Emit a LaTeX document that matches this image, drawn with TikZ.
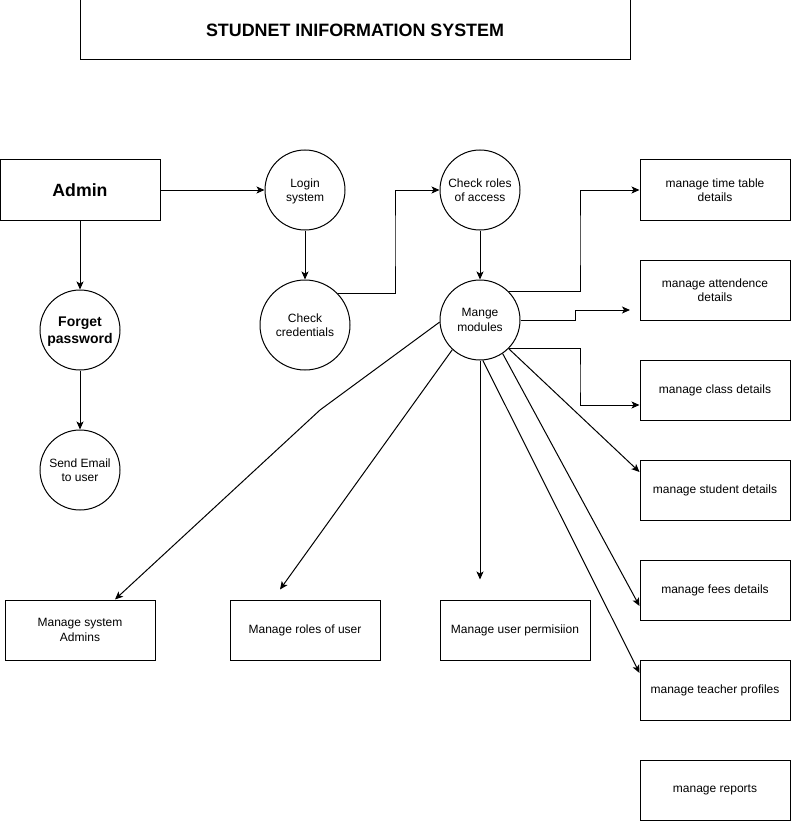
\documentclass[tikz,border=0pt]{standalone}
\usepackage{fontspec}
\setmainfont{Liberation Sans}
\usetikzlibrary{arrows.meta,calc}
\begin{document}
\begin{tikzpicture}[x=1pt,y=-1pt,
  box/.style={draw,line width=1pt,rectangle,minimum width=150pt,minimum height=60pt,inner sep=0pt,align=center,font=\fontsize{12}{14.5}\selectfont},
  circ/.style={draw,line width=1pt,circle,minimum size=80pt,inner sep=0pt,align=center,font=\fontsize{12}{14.5}\selectfont},
  two/.style={text depth=-1pt},
  arr/.style={line width=1pt,-{Stealth[length=8pt,width=7pt,inset=2pt]}},
  ln/.style={line width=1pt}]
\useasboundingbox (0,0) rectangle (791,821);
\node[box,minimum width=550pt,font=\fontsize{17.9}{20}\selectfont\bfseries] (title) at (355,30) {\raisebox{-1.5pt}{STUDNET INIFORMATION SYSTEM}};
\node[box,minimum width=160pt,font=\fontsize{17.7}{20}\selectfont\bfseries] (admin) at (80,190) {\raisebox{-1pt}{Admin}};
\node[circ,two] (login) at (305,190) {Login\\system};
\node[circ,two,minimum size=90pt] (cred) at (305,325) {Check\\credentials};
\node[circ,two,font=\fontsize{14}{17}\selectfont\bfseries] (forget) at (80,330) {Forget\\password};
\node[circ,two] (email) at (80,470) {Send Email\\to user};
\node[circ,two] (roles) at (480,190) {Check roles\\of access};
\node[circ,two] (mods) at (480,320) {Mange\\modules};
\node[box,two] (tt) at (715,190) {manage time table\\details};
\node[box,two] (att) at (715,290) {manage attendence\\details};
\node[box] (cls) at (715,390) {manage class details};
\node[box] (stu) at (715,490) {manage student details};
\node[box] (fees) at (715,590) {manage fees details};
\node[box] (teach) at (715,690) {manage teacher profiles};
\node[box] (rep) at (715,790) {manage reports};
\node[box,two] (sysadm) at (80,630) {Manage system\\Admins};
\node[box] (rolesu) at (305,630) {Manage roles of user};
\node[box] (perm) at (515,630) {Manage user permisiion};
\coordinate (k1) at (395,240);
\coordinate (k2) at (580,240);
\coordinate (a1) at (575,310);
\coordinate (aend) at (630,310);
\coordinate (k3) at (580,380);
\coordinate (bend) at (320,410);
\draw[arr] (admin.east) -- (login.west);
\draw[arr] (admin.south) -- (forget.north);
\draw[arr] (forget.south) -- (email.north);
\draw[arr] (login.south) -- (cred.north);
\draw[arr] (cred.43.5) -| (k1) |- (roles.west);
\draw[arr] (roles.south) -- (mods.north);
\draw[arr] (mods.44) -| (k2) |- (tt.west);
\draw[arr] (mods.east) -| (a1) -- (aend);
\draw[arr] (mods.-44) -| (k3) |- ([yshift=-15pt]cls.west);
\draw[arr] (mods.-45) -- ([yshift=18pt]stu.west);
\draw[arr] (mods.-56) -- ([yshift=-16pt]fees.west);
\draw[arr] (mods.-86) -- ([yshift=17pt]teach.west);
\draw[arr] (mods.south) -- ([xshift=-35pt,yshift=20pt]perm.north);
\draw[arr] (mods.-133) -- ([xshift=-25pt,yshift=10pt]rolesu.north);
\draw[arr] (mods.183) -- (bend) -- ([xshift=35pt]sysadm.north);
\end{tikzpicture}
\end{document}
